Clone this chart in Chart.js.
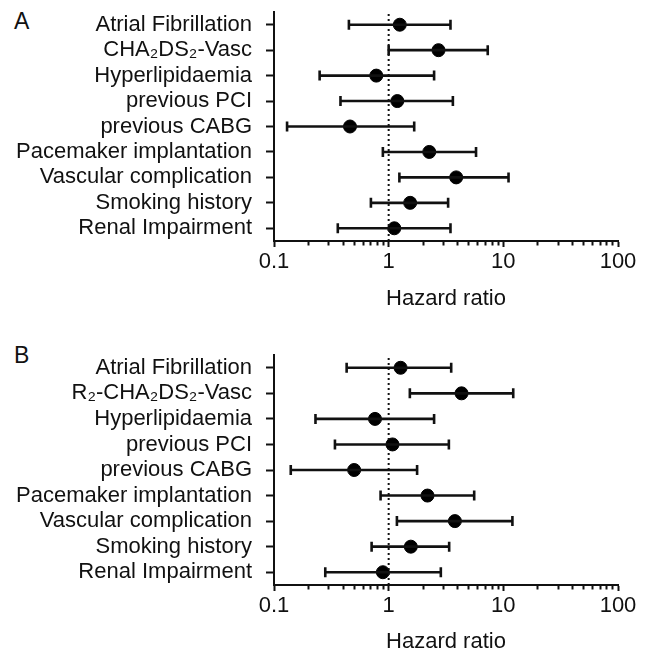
<!DOCTYPE html>
<html>
<head>
<meta charset="utf-8">
<script src="https://cdn.jsdelivr.net/npm/chart.js@4/dist/chart.umd.min.js"></script>
<style>
  body { margin: 0; background: #fff; width: 649px; height: 653px; position: relative; overflow: hidden; }
  .panel { position: absolute; left: 0; width: 649px; }
  .letter { position: absolute; left: 14px; font: 23px "Liberation Sans", Arial, sans-serif; line-height: 23px; color: #111; }
</style>
</head>
<body>
<div class="letter" style="top:10px">A</div>
<div class="letter" style="top:344px">B</div>
<div class="panel" style="top:0; height:320px"><canvas id="chartA"></canvas></div>
<div class="panel" style="top:335px; height:322px"><canvas id="chartB"></canvas></div>
<script>
// rows, top to bottom
const labelsA = ['Atrial Fibrillation', 'CHA\u2082DS\u2082-Vasc', 'Hyperlipidaemia', 'previous PCI', 'previous CABG',
    'Pacemaker implantation', 'Vascular complication', 'Smoking history', 'Renal Impairment'];
const labelsB = ['Atrial Fibrillation', 'R\u2082-CHA\u2082DS\u2082-Vasc', 'Hyperlipidaemia', 'previous PCI', 'previous CABG',
    'Pacemaker implantation', 'Vascular complication', 'Smoking history', 'Renal Impairment'];

// hazard ratio with 95% CI, panel A
const hrA   = [1.25, 2.72, 0.78, 1.19, 0.46, 2.26, 3.88, 1.54, 1.12];
const lowA  = [0.45, 1.00, 0.25, 0.38, 0.13, 0.89, 1.24, 0.70, 0.36];
const highA = [3.46, 7.31, 2.49, 3.63, 1.67, 5.78, 11.1, 3.30, 3.46];

// panel B
const hrB   = [1.27, 4.32, 0.76, 1.08, 0.50, 2.18, 3.78, 1.56, 0.89];
const lowB  = [0.43, 1.53, 0.23, 0.34, 0.14, 0.85, 1.18, 0.71, 0.28];
const highB = [3.51, 12.2, 2.49, 3.35, 1.77, 5.57, 12.0, 3.37, 2.85];

const majorTicks = [0.1, 1, 10, 100];
const refLine = 1;

const font = { family: '"Liberation Sans", Arial, sans-serif', size: 22 };
const ink = '#111';

function logTicks() {
    let t = [];
    for (let i = 0; i < majorTicks.length - 1; i++) {
        for (let k = 1; k < 10; k++) t.push(Number((majorTicks[i] * k).toPrecision(3)));
    }
    t.push(majorTicks[majorTicks.length - 1]);
    return t.map((v) => ({ value: v, major: majorTicks.includes(v) }));
}

function makeChart(id, labels, hr, low, high, padTop, xHeight, titlePad) {
    let datasets = [];
    // dotted line of no effect
    datasets.push({
        type: 'line',
        data: [{ x: refLine, y: 0 }, { x: refLine, y: 1 }],
        yAxisID: 'yl',
        borderColor: ink,
        borderWidth: 2,
        borderDash: [2, 3],
        pointRadius: 0
    });
    // confidence intervals
    labels.forEach((lab, i) => {
        datasets.push({
            type: 'line',
            data: [{ x: low[i], y: lab }, { x: high[i], y: lab }],
            borderColor: ink,
            borderWidth: 2.6,
            pointStyle: 'line',
            rotation: 90,
            pointRadius: 5,
            pointBorderWidth: 2.6,
            pointBorderColor: ink
        });
    });
    // point estimates
    datasets.push({
        type: 'scatter',
        data: labels.map((lab, i) => ({ x: hr[i], y: lab })),
        backgroundColor: '#000',
        borderColor: '#000',
        pointRadius: 6.5
    });

    return new Chart(document.getElementById(id), {
        data: { datasets: datasets },
        options: {
            responsive: true,
            maintainAspectRatio: false,
            animation: false,
            events: [],
            layout: { padding: { top: padTop, right: 31, left: 0, bottom: 0 } },
            plugins: { legend: { display: false }, tooltip: { enabled: false } },
            scales: {
                x: {
                    type: 'logarithmic',
                    min: 0.1,
                    max: 100,
                    afterBuildTicks: (scale) => { scale.ticks = logTicks(); },
                    afterFit: (scale) => { scale.height = xHeight; },
                    border: { color: ink, width: 2 },
                    grid: {
                        drawOnChartArea: false,
                        tickLength: 6,
                        tickColor: ink,
                        tickWidth: 2,
                        tickBorderDash: (ctx) => (ctx.tick && majorTicks.includes(ctx.tick.value)) ? [] : [3.5, 20]
                    },
                    ticks: {
                        autoSkip: false,
                        maxRotation: 0,
                        padding: 2,
                        color: ink,
                        font: font,
                        callback: (v) => majorTicks.includes(v) ? String(v) : ''
                    },
                    title: { display: true, text: 'Hazard ratio', color: ink, font: font, padding: { top: 0, bottom: titlePad } }
                },
                y: {
                    type: 'category',
                    labels: labels,
                    offset: true,
                    afterFit: (scale) => {
                        scale.width = 274;
                        scale.paddingTop = 0;
                        scale.paddingBottom = 0;
                    },
                    border: { color: ink, width: 2 },
                    grid: { drawOnChartArea: false, offset: false, tickLength: 8, tickColor: ink, tickWidth: 2 },
                    ticks: { autoSkip: false, padding: 14, color: ink, font: font }
                },
                yl: { type: 'linear', min: 0, max: 1, display: false }
            }
        }
    });
}

makeChart('chartA', labelsA, hrA, lowA, highA, 12, 79, 8);
makeChart('chartB', labelsB, hrB, lowB, highB, 20, 72, 2);
</script>
</body>
</html>
